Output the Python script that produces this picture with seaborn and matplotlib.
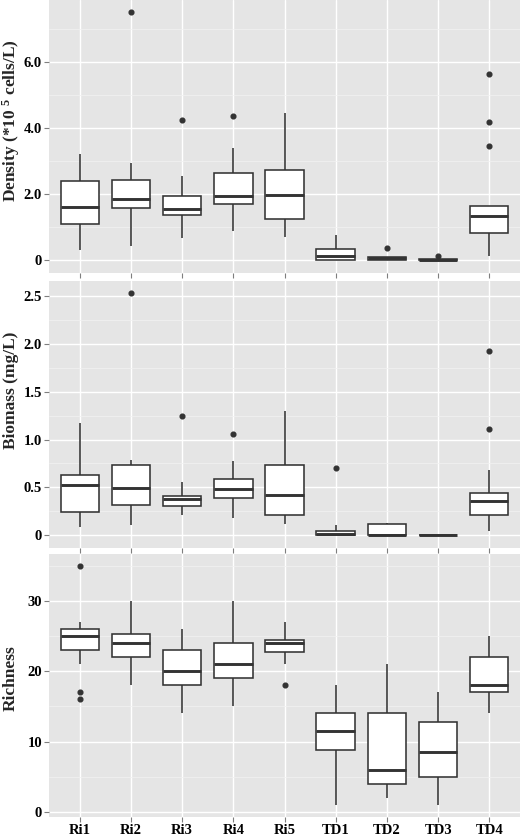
import matplotlib
matplotlib.use("Agg")
import matplotlib.pyplot as plt
import numpy as np
import pandas as pd
import seaborn as sns
from matplotlib.ticker import FixedLocator, MultipleLocator

# ---------------- data ----------------
categories = ["Ri1", "Ri2", "Ri3", "Ri4", "Ri5", "TD1", "TD2", "TD3", "TD4"]

# Density (*10^5 cells/L) observations per site
density_values = [
    [0.32, 1.11, 1.62, 2.39, 3.23],
    [0.42, 1.57, 1.57, 1.85, 1.85, 2.44, 2.44, 2.95, 7.50],
    [0.68, 1.38, 1.38, 1.54, 1.54, 1.95, 1.95, 2.55, 4.24],
    [0.88, 1.69, 1.69, 1.94, 1.94, 2.63, 2.63, 3.41, 4.37],
    [0.69, 1.26, 1.99, 2.73, 4.47],
    [0.00, 0.00, 0.14, 0.35, 0.78],
    [0.00, 0.00, 0.00, 0.06, 0.06, 0.11, 0.11, 0.11, 0.38],
    [0.00, 0.00, 0.00, 0.01, 0.01, 0.03, 0.03, 0.03, 0.12],
    [0.14, 0.84, 0.84, 0.84, 1.33, 1.33, 1.33, 1.64, 1.64, 1.64, 3.47, 4.19, 5.64],
]

# Biomass (mg/L) observations per site
biomass_values = [
    [0.087, 0.244, 0.524, 0.625, 1.17],
    [0.105, 0.318, 0.318, 0.49, 0.49, 0.73, 0.73, 0.79, 2.53],
    [0.216, 0.304, 0.304, 0.377, 0.377, 0.415, 0.415, 0.556, 1.243],
    [0.181, 0.394, 0.394, 0.485, 0.485, 0.587, 0.587, 0.775, 1.062],
    [0.122, 0.213, 0.426, 0.73, 1.30],
    [0.0, 0.0, 0.0, 0.017, 0.017, 0.048, 0.048, 0.105, 0.706],
    [0.0, 0.0, 0.005, 0.115, 0.132],
    [0.0, 0.0, 0.003, 0.008, 0.010],
    [0.048, 0.213, 0.213, 0.213, 0.356, 0.356, 0.356, 0.447, 0.447, 0.447, 0.685, 1.114, 1.925],
]

# Richness observations per site
richness_values = [
    [16, 17, 21, 23, 23, 25, 25, 25, 26, 26, 27, 27, 35],
    [18, 22, 24, 25.25, 30],
    [14, 18, 20, 23, 26],
    [15, 19, 21, 24, 30],
    [18, 21, 22.75, 22.75, 24, 24, 24.5, 24.5, 27],
    [1, 8.75, 11.5, 14, 18],
    [2, 4, 6, 14, 21],
    [1, 5, 8.5, 12.75, 17],
    [14, 17, 18, 22, 25],
]

density_ticks = [0, 2, 4, 6]
density_ticklabels = ["0", "2.0", "4.0", "6.0"]
biomass_ticks = [0, 0.5, 1.0, 1.5, 2.0, 2.5]
biomass_ticklabels = ["0", "0.5", "1.0", "1.5", "2.0", "2.5"]
richness_ticks = [0, 10, 20, 30]
richness_ticklabels = ["0", "10", "20", "30"]

ylabels = [r"Density (*10 $^{\mathbf{5}}$ cells/L)", "Biomass (mg/L)", "Richness"]

# ---------------- style ----------------
sns.set_theme(style="darkgrid")
plt.rcParams["font.family"] = ["Liberation Serif", "DejaVu Serif"]
plt.rcParams["font.weight"] = "bold"
plt.rcParams["mathtext.fontset"] = "custom"
plt.rcParams["mathtext.rm"] = "Liberation Serif:bold"
plt.rcParams["mathtext.bf"] = "Liberation Serif:bold"
plt.rcParams["mathtext.it"] = "Liberation Serif:bold"
plt.rcParams["axes.axisbelow"] = True

W, H = 520, 836
fig = plt.figure(figsize=(W / 100, H / 100), dpi=100, facecolor="white")

left_px = 49
panels_px = [(0, 272.7), (280.7, 547.5), (554, 816.7)]
label_centers_px = [121, 390, 678]

panel_data = [
    (density_values, density_ticks, density_ticklabels, 1.0),
    (biomass_values, biomass_ticks, biomass_ticklabels, 0.25),
    (richness_values, richness_ticks, richness_ticklabels, 5.0),
]

line_col = "#333333"

for i, ((vals, ticks, ticklabels, minor_step), (top, bot)) in enumerate(zip(panel_data, panels_px)):
    ax = fig.add_axes([left_px / W, (H - bot) / H, (W - left_px) / W, (bot - top) / H])
    df = pd.DataFrame({
        "site": [c for c, v in zip(categories, vals) for _ in v],
        "value": [x for v in vals for x in v],
    })
    sns.boxplot(
        data=df, x="site", y="value", order=categories, ax=ax,
        width=0.75, color="white", linecolor=line_col, linewidth=1.15,
        saturation=1, showcaps=False, fliersize=3.4,
        flierprops=dict(marker="o", markerfacecolor=line_col,
                        markeredgecolor=line_col, markersize=3.4),
        medianprops=dict(linewidth=2.1, color=line_col),
        whiskerprops=dict(linewidth=1.15, color=line_col),
        boxprops=dict(linewidth=1.15, edgecolor=line_col, facecolor="white"),
    )
    allv = [x for v in vals for x in v]
    lo, hi = min(allv), max(allv)
    pad = 0.05 * (hi - lo)
    ax.set_ylim(lo - pad, hi + pad)
    ax.set_xlim(-0.6, len(categories) - 0.4)

    ax.set_facecolor("#E5E5E5")
    ax.yaxis.set_major_locator(FixedLocator(ticks))
    ax.set_yticklabels(ticklabels)
    ax.yaxis.set_minor_locator(MultipleLocator(minor_step))
    ax.grid(True, which="major", axis="both", color="white", linewidth=1.0)
    ax.grid(True, which="minor", axis="y", color="#F2F2F2", linewidth=0.5)
    ax.xaxis.grid(True, which="major", color="white", linewidth=1.0)
    for s in ax.spines.values():
        s.set_visible(False)

    ax.tick_params(axis="both", which="major", bottom=True, left=True,
                   length=3.5, width=0.8, color="#7F7F7F", pad=1.5,
                   labelsize=10.5, labelcolor="black")
    ax.tick_params(axis="both", which="minor", length=0)
    for lab in ax.get_yticklabels() + ax.get_xticklabels():
        lab.set_fontweight("bold")

    ax.set_xlabel("")
    if i < 2:
        ax.tick_params(axis="x", labelbottom=False)
    ax.set_ylabel(ylabels[i], fontsize=12.5, fontweight="bold", va="center")
    ax.yaxis.set_label_coords((11 - left_px) / (W - left_px),
                              (bot - label_centers_px[i]) / (bot - top))

fig.savefig("out.png", dpi=100)
